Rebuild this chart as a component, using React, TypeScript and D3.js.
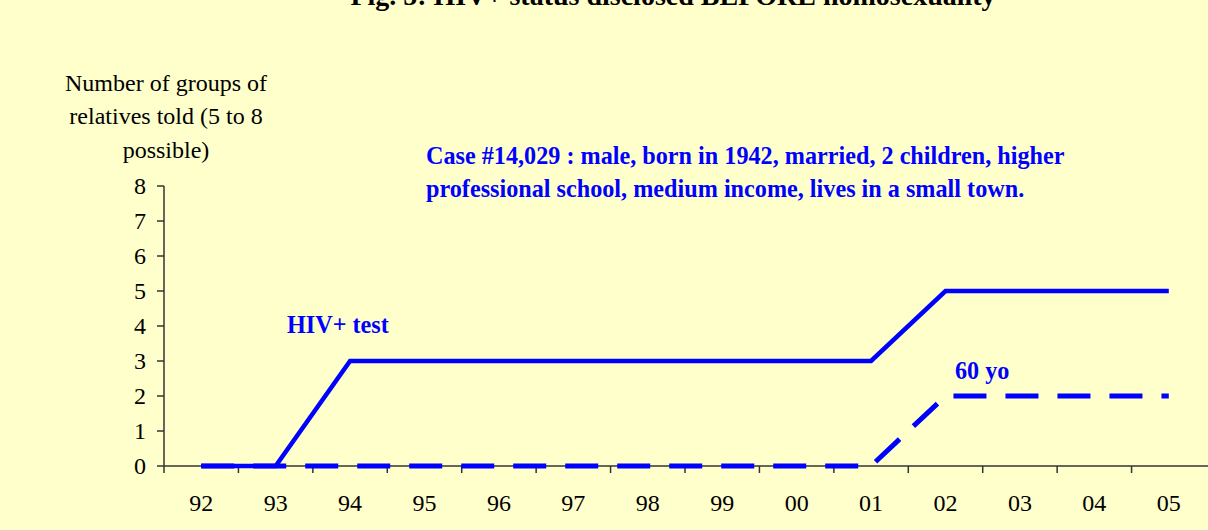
import React from 'react';
import * as d3 from 'd3';

const years = ['92', '93', '94', '95', '96', '97', '98', '99', '00', '01', '02', '03', '04', '05'];
const allGroups = [0, 0, 3, 3, 3, 3, 3, 3, 3, 3, 5, 5, 5, 5];
const homoGroups = [0, 0, 0, 0, 0, 0, 0, 0, 0, 0, 2, 2, 2, 2];
const yTicks = [0, 1, 2, 3, 4, 5, 6, 7, 8];

const width = 1208, height = 530;
const margin = { top: 186, right: 2, bottom: 64, left: 164 };
const serif = '"Liberation Serif", "Times New Roman", serif';

const App = () => {
  const x = d3.scaleBand<string>()
    .domain(years)
    .range([margin.left, width - margin.right]);
  const y = d3.scaleLinear()
    .domain([0, 8])
    .range([height - margin.bottom, margin.top]);

  const line = d3.line<number>()
    .x((d, i) => x(years[i])! + x.bandwidth() / 2)
    .y(d => y(d));

  const base = y(0);

  return (
    <svg width={width} height={height} style={{ position: 'absolute', left: 0, top: 0, background: '#FFFFCC' }}
      fontFamily={serif}>
      <rect width={width} height={height} fill="#FFFFCC" />
      {/* title is cropped at the top edge, as in the original */}
      <text x={673} y={5} textAnchor="middle" fontSize={28} fontWeight="bold" fill="#000">
        Fig. 5: HIV+ status disclosed BEFORE homosexuality
      </text>

      {/* y axis title */}
      <g fontSize={24} textAnchor="middle" fill="#000">
        <text x={166} y={91}>Number of groups of</text>
        <text x={166} y={124}>relatives told (5 to 8</text>
        <text x={166} y={158}>possible)</text>
      </g>

      {/* axes */}
      <line x1={margin.left} x2={margin.left} y1={margin.top} y2={base} stroke="#333" strokeWidth={1.5} />
      <line x1={margin.left} x2={width} y1={base} y2={base} stroke="#333" strokeWidth={1.5} />
      {yTicks.map(t => (
        <g key={t}>
          <line x1={margin.left - 7} x2={margin.left} y1={y(t)} y2={y(t)} stroke="#333" strokeWidth={1.5} />
          <text x={margin.left - 18} y={y(t)} dy="0.35em" textAnchor="end" fontSize={24} fill="#000">{t}</text>
        </g>
      ))}
      {years.map(yr => (
        <g key={yr}>
          <line x1={x(yr)!} x2={x(yr)!} y1={base} y2={base + 7} stroke="#333" strokeWidth={1.5} />
          <text x={x(yr)! + x.bandwidth() / 2} y={511} textAnchor="middle" fontSize={24} fill="#000">{yr}</text>
        </g>
      ))}

      {/* series */}
      <path d={line(allGroups)!} fill="none" stroke="#0000FF" strokeWidth={4.5} strokeLinejoin="miter" />
      <path d={line(homoGroups)!} fill="none" stroke="#0000FF" strokeWidth={5} strokeDasharray="33 19" />

      {/* annotations */}
      <g fill="#0000FF" fontWeight="bold" fontSize={24.2}>
        <text x={426} y={164}>Case #14,029 : male, born in 1942, married, 2 children, higher</text>
        <text x={426} y={197}>professional school, medium income, lives in a small town.</text>
        <text x={287} y={333}>HIV+ test</text>
        <text x={955} y={379}>60 yo</text>
      </g>
    </svg>
  );
};

export default App;
